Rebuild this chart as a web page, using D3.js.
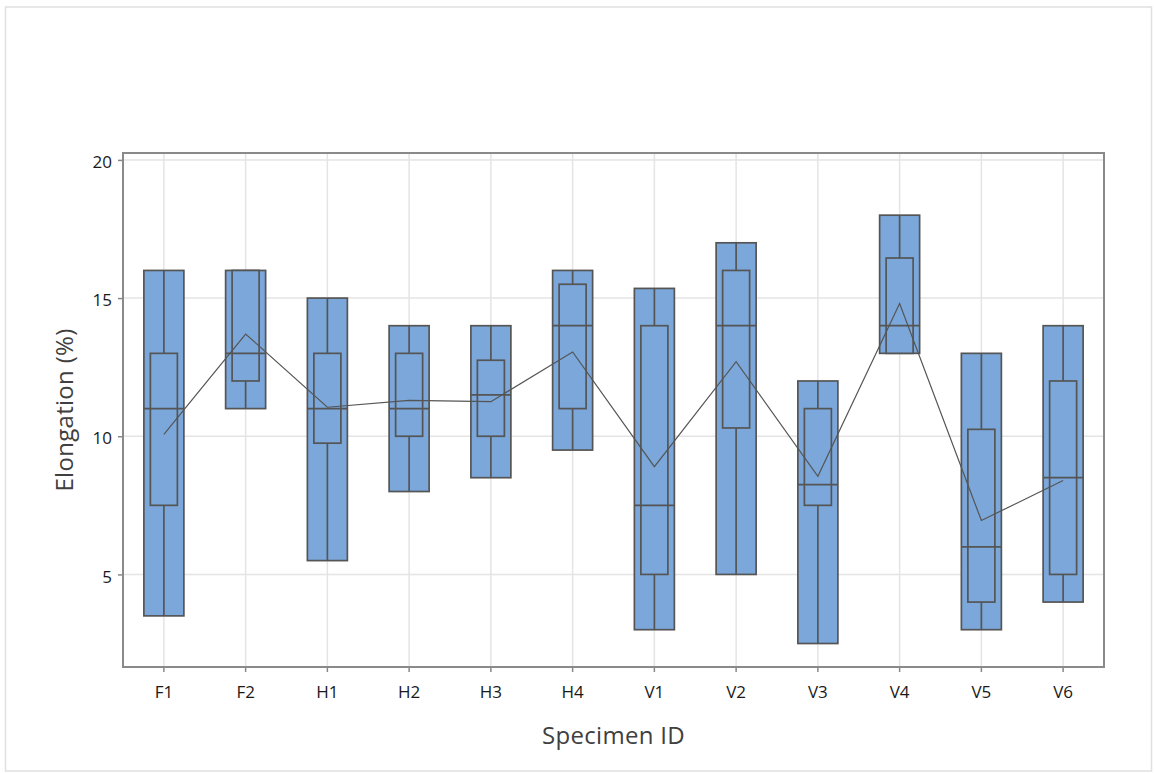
<!DOCTYPE html>
<html><head><meta charset="utf-8">
<script src="https://cdn.jsdelivr.net/npm/d3@7"></script>
<style>body{margin:0;background:#fff}svg{display:block}text{font-family:"Open Sans","Noto Sans",sans-serif}</style>
</head><body><svg id="c" width="1154" height="773"></svg>
<script>
const categories = ["F1","F2","H1","H2","H3","H4","V1","V2","V3","V4","V5","V6"];
const minVals    = [3.5, 11, 5.5, 8, 8.5, 9.5, 3, 5, 2.5, 13, 3, 4];
const q1Vals     = [7.5, 12, 9.75, 10, 10, 11, 5, 10.3, 7.5, 13, 4, 5];
const medianVals = [11, 13, 11, 11, 11.5, 14, 7.5, 14, 8.25, 14, 6, 8.5];
const q3Vals     = [13, 16, 13, 13, 12.75, 15.5, 14, 16, 11, 16.45, 10.25, 12];
const maxVals    = [16, 16, 15, 14, 14, 16, 15.35, 17, 12, 18, 13, 14];
const meanVals   = [10.07, 13.7, 11.05, 11.3, 11.25, 13.05, 8.9, 12.7, 8.55, 14.8, 6.95, 8.4];
const yTicks     = [5, 10, 15, 20];

const svg = d3.select("#c");
const L = 123, R = 1104, T = 153, B = 667;
const x = d3.scaleBand().domain(categories).range([L, R]);
const y = d3.scaleLinear().domain([1.65, 20.25]).range([B, T]);
const cx = d => x(d) + x.bandwidth()/2;

svg.append("rect").attr("x",5.5).attr("y",7).attr("width",1146).attr("height",764)
  .attr("fill","none").attr("stroke","#e0e0e0").attr("stroke-width",1.5);

// gridlines
const g = svg.append("g");
g.selectAll(".gy").data(yTicks).join("line").attr("x1",L).attr("x2",R)
  .attr("y1",d=>y(d)).attr("y2",d=>y(d)).attr("stroke","#e4e4e4").attr("stroke-width",1.5);
g.selectAll(".gx").data(categories).join("line").attr("x1",cx).attr("x2",cx)
  .attr("y1",T).attr("y2",B).attr("stroke","#e4e4e4").attr("stroke-width",1.5);

// axes
const yAxis = svg.append("g").attr("transform",`translate(${L},0)`)
  .call(d3.axisLeft(y).tickValues(yTicks).tickSize(5).tickPadding(6));
const xAxis = svg.append("g").attr("transform",`translate(0,${B})`)
  .call(d3.axisBottom(x).tickSize(5).tickPadding(14));
[yAxis,xAxis].forEach(a=>{
  a.select(".domain").remove();
  a.selectAll(".tick line").attr("stroke","#888").attr("stroke-width",1.5);
  a.selectAll(".tick text").attr("fill","#1a1a1a").style("font-size","17px");
});
yAxis.selectAll(".tick text").attr("dy","0.45em");

// frame
svg.append("rect").attr("x",L).attr("y",T).attr("width",R-L).attr("height",B-T)
  .attr("fill","none").attr("stroke","#8a8a8a").attr("stroke-width",2);

const stroke = "#555", fill = "#7ba7da";
const outerW = 40, innerW = 27;
const boxes = svg.append("g").selectAll("g").data(categories).join("g");
boxes.append("rect").attr("x",d=>cx(d)-outerW/2).attr("width",outerW)
  .attr("y",(d,i)=>y(maxVals[i])).attr("height",(d,i)=>y(minVals[i])-y(maxVals[i]))
  .attr("fill",fill).attr("stroke",stroke).attr("stroke-width",1.7);
boxes.append("line").attr("x1",cx).attr("x2",cx)
  .attr("y1",(d,i)=>y(maxVals[i])).attr("y2",(d,i)=>y(q3Vals[i])).attr("stroke",stroke).attr("stroke-width",1.7);
boxes.append("line").attr("x1",cx).attr("x2",cx)
  .attr("y1",(d,i)=>y(q1Vals[i])).attr("y2",(d,i)=>y(minVals[i])).attr("stroke",stroke).attr("stroke-width",1.7);
boxes.append("rect").attr("x",d=>cx(d)-innerW/2).attr("width",innerW)
  .attr("y",(d,i)=>y(q3Vals[i])).attr("height",(d,i)=>y(q1Vals[i])-y(q3Vals[i]))
  .attr("fill",fill).attr("stroke",stroke).attr("stroke-width",1.7);
boxes.append("line").attr("x1",d=>cx(d)-outerW/2).attr("x2",d=>cx(d)+outerW/2)
  .attr("y1",(d,i)=>y(medianVals[i])).attr("y2",(d,i)=>y(medianVals[i])).attr("stroke",stroke).attr("stroke-width",1.7);

// mean connect line
svg.append("path").datum(categories)
  .attr("d", d3.line().x(d=>cx(d)).y((d,i)=>y(meanVals[i])))
  .attr("fill","none").attr("stroke","#555").attr("stroke-width",1.2);

// labels
svg.append("text").attr("x",(L+R)/2).attr("y",744).attr("text-anchor","middle")
  .attr("fill","#404040").style("font-size","24px").style("letter-spacing","0.3px").text("Specimen ID");
svg.append("text").attr("transform",`translate(73,${(T+B)/2}) rotate(-90)`).attr("text-anchor","middle")
  .attr("fill","#404040").style("font-size","24px").style("letter-spacing","0.3px").text("Elongation (%)");
</script></body></html>
